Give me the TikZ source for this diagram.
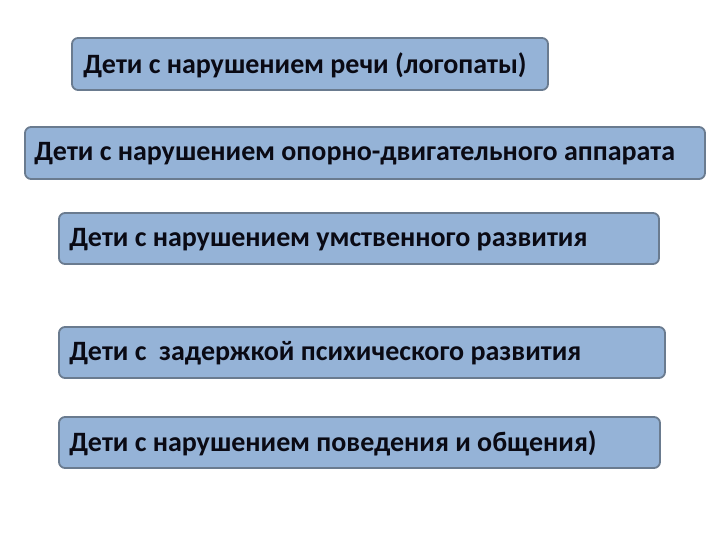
\documentclass[tikz,border=0pt]{standalone}
\usepackage{fontspec}
\setmainfont{Carlito}
\definecolor{boxfill}{HTML}{95B3D7}
\definecolor{boxline}{HTML}{6A7B8F}
\definecolor{txt}{HTML}{0A0A14}
\begin{document}
\begin{tikzpicture}[x=1pt,y=-1pt,
  panel/.style={draw=boxline,line width=1.8pt,fill=boxfill,rounded corners=6pt,inner sep=0pt},
  label/.style={anchor=west,inner sep=0pt,text=txt,font=\bfseries\fontsize{28}{32}\selectfont}]
\useasboundingbox (0,0) rectangle (720,540);
\node[panel,minimum width=476pt,minimum height=52pt] (b1) at (310,64) {};
\node[panel,minimum width=680pt,minimum height=52pt] (b2) at (365,153) {};
\node[panel,minimum width=600pt,minimum height=51pt] (b3) at (359,238.5) {};
\node[panel,minimum width=606pt,minimum height=51pt] (b4) at (362,352.5) {};
\node[panel,minimum width=601pt,minimum height=51pt] (b5) at (359.5,442.5) {};
\node[label] (t1) at ([xshift=12pt,yshift=-1pt]b1.west) {Дети с нарушением речи (логопаты)};
\node[label] (t2) at ([xshift=10pt,yshift=-1pt]b2.west) {Дети с нарушением опорно-двигательного аппарата};
\node[label] (t3) at ([xshift=11pt,yshift=-1pt]b3.west) {Дети с нарушением умственного развития};
\node[label] (t4) at ([xshift=11pt,yshift=-1pt]b4.west) {Дети с \ задержкой психического развития};
\node[label] (t5) at ([xshift=11pt,yshift=-1pt]b5.west) {Дети с нарушением поведения и общения)};
\end{tikzpicture}
\end{document}
